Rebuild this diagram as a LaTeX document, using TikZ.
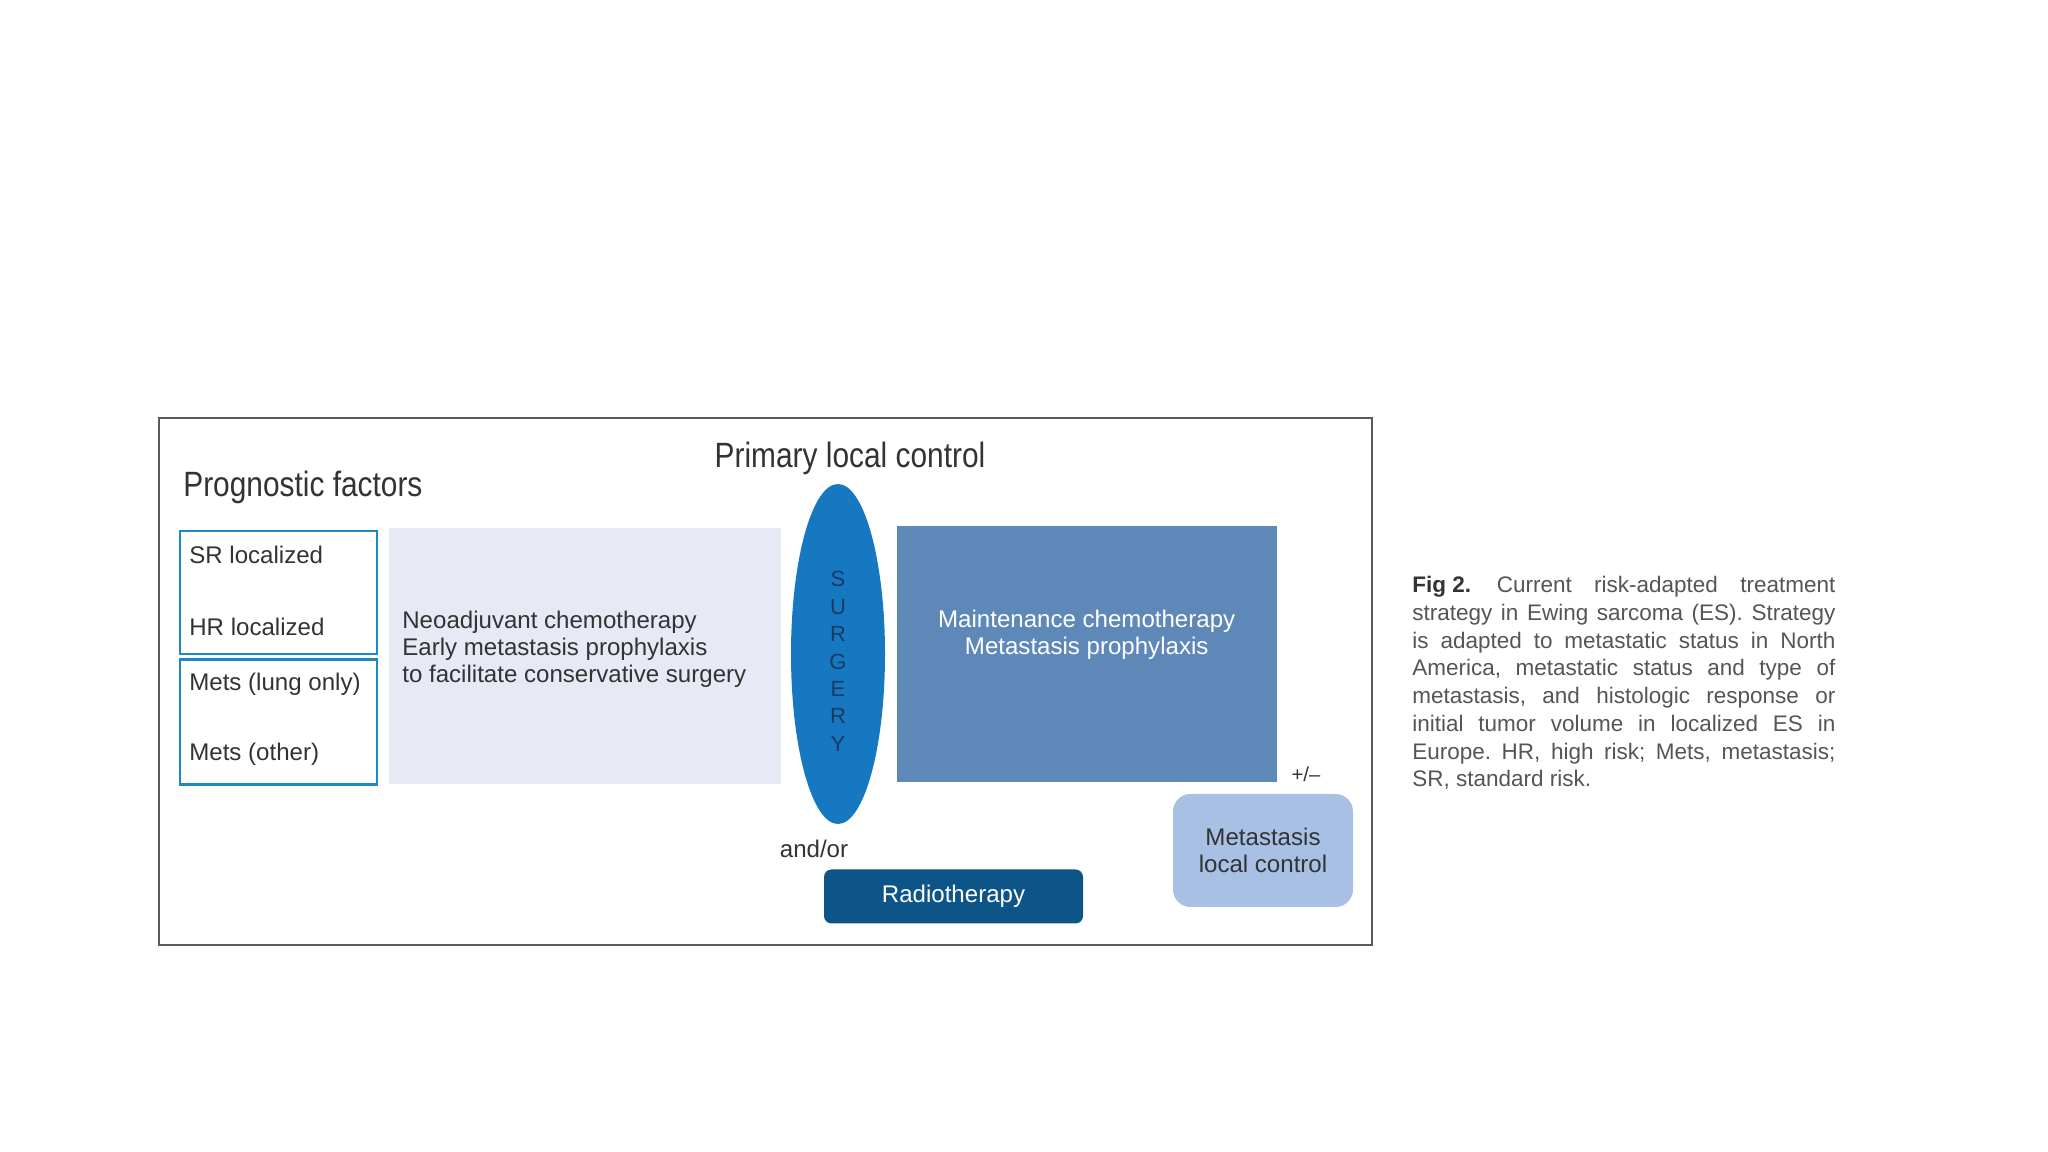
\documentclass[tikz,border=0pt]{standalone}
\usepackage{fontspec}
\setmainfont{Liberation Sans}
\newfontfamily\condfont[FakeStretch=0.85]{Liberation Sans}
\usepackage{xcolor}
\usetikzlibrary{positioning,shapes.geometric}
\frenchspacing

\definecolor{framegray}{HTML}{5A5A5A}
\definecolor{textgray}{HTML}{333333}
\definecolor{factorblue}{HTML}{1D8AC6}
\definecolor{neofill}{HTML}{E7E9F5}
\definecolor{surgblue}{HTML}{1778C2}
\definecolor{surgtext}{HTML}{173A62}
\definecolor{maintfill}{HTML}{5D88B7}
\definecolor{metfill}{HTML}{A8C0E4}
\definecolor{radfill}{HTML}{0D5589}
\definecolor{capgray}{HTML}{555555}

\begin{document}
\begin{tikzpicture}[
    node distance=2mm,
    title/.style={font=\condfont\fontsize{20}{24}\selectfont, text=textgray, inner sep=0pt},
    txt/.style={font=\fontsize{13.7}{15.6}\selectfont, text=textgray, inner sep=0pt, align=left},
    factorbox/.style={draw=factorblue, line width=1.4pt, minimum width=3.94cm,
    minimum height=2.46cm, inner sep=0pt},
    panel/.style={minimum height=5.12cm, inner sep=0pt}
]
\useasboundingbox (0,0) rectangle (40.96,23.04);
\fill[white] (0,0) rectangle (40.96,23.04);

% frame and headings
\node[draw=framegray, line width=0.9pt, minimum width=24.26cm, minimum height=10.54cm,
    anchor=south west, inner sep=0pt] (frame) at (3.16,4.12) {};
\node[title, anchor=west] (progn) at (3.66,13.29) {Prognostic factors};
\node[title] (primary) at (17.0,13.87) {Primary local control};

% prognostic factor boxes
\node[factorbox, anchor=north west] (loc) at (3.58,12.44) {};
\node[factorbox, minimum height=2.5cm, below=0.6mm of loc] (mets) {};
\node[txt, anchor=west] (sr) at ([xshift=2mm, yshift=-5mm]loc.north west) {SR localized};
\node[txt, anchor=west] (hr) at ([xshift=2mm, yshift=5.8mm]loc.south west) {HR localized};
\node[txt, anchor=west] (lung) at ([xshift=2mm, yshift=-5.2mm]mets.north west) {Mets (lung only)};
\node[txt, anchor=west] (other) at ([xshift=2mm, yshift=6.4mm]mets.south west) {Mets (other)};

% treatment phases
\node[panel, fill=neofill, minimum width=7.84cm, anchor=north west] (neo) at (7.78,12.48) {};
\node[txt, anchor=west] (neotxt) at ([xshift=2.6mm, yshift=1.4mm]neo.west)
    {Neoadjuvant chemotherapy\\Early metastasis prophylaxis\\to facilitate conservative surgery};

\node[ellipse, fill=surgblue, minimum width=1.88cm, minimum height=6.8cm, inner sep=0pt] (surg) at (16.76,9.96) {};
\node[font=\fontsize{12.5}{15.6}\selectfont, text=surgtext, align=center, inner sep=0pt] (surgtxt)
    at ([yshift=-1.5mm]surg.center) {S\\U\\R\\G\\E\\R\\Y};

\node[panel, fill=maintfill, minimum width=7.6cm, right=2.2mm of surg] (maint) {};
\node[txt, text=white, align=center] (mainttxt) at ([yshift=3.9mm]maint.center)
    {Maintenance chemotherapy\\Metastasis prophylaxis};

% local control options
\node[txt] (andor) at (16.28,6.06) {and/or};
\node[txt, text=white, fill=radfill, rounded corners=1.5mm, minimum width=5.18cm,
    minimum height=1.08cm] (radio) at (19.07,5.11) {Radiotherapy};
\node[txt, font=\fontsize{11.5}{14}\selectfont] (plusminus) at (26.12,7.56) {+/–};
\node[txt, align=center, fill=metfill, rounded corners=3.5mm, minimum width=3.6cm,
    minimum height=2.26cm] (metlc) at (25.26,6.03) {Metastasis\\local control};

% caption
\node[anchor=north west, text width=8.46cm, align=justify, inner sep=0pt,
    font=\fontsize{12.8}{15.8}\selectfont, text=capgray] (caption) at (28.24,11.52)
    {\hbox{\color{textgray}\textbf{Fig 2.}}\hspace{0.15em} Current risk-adapted treatment\linebreak
    strategy in Ewing sarcoma (ES). Strategy\linebreak
    is adapted to metastatic status in North\linebreak
    America, metastatic status and type of\linebreak
    metastasis, and histologic response or\linebreak
    initial tumor volume in localized ES in\linebreak
    Europe. HR, high risk; Mets, metastasis;\linebreak
    SR, standard risk.};
\end{tikzpicture}
\end{document}
